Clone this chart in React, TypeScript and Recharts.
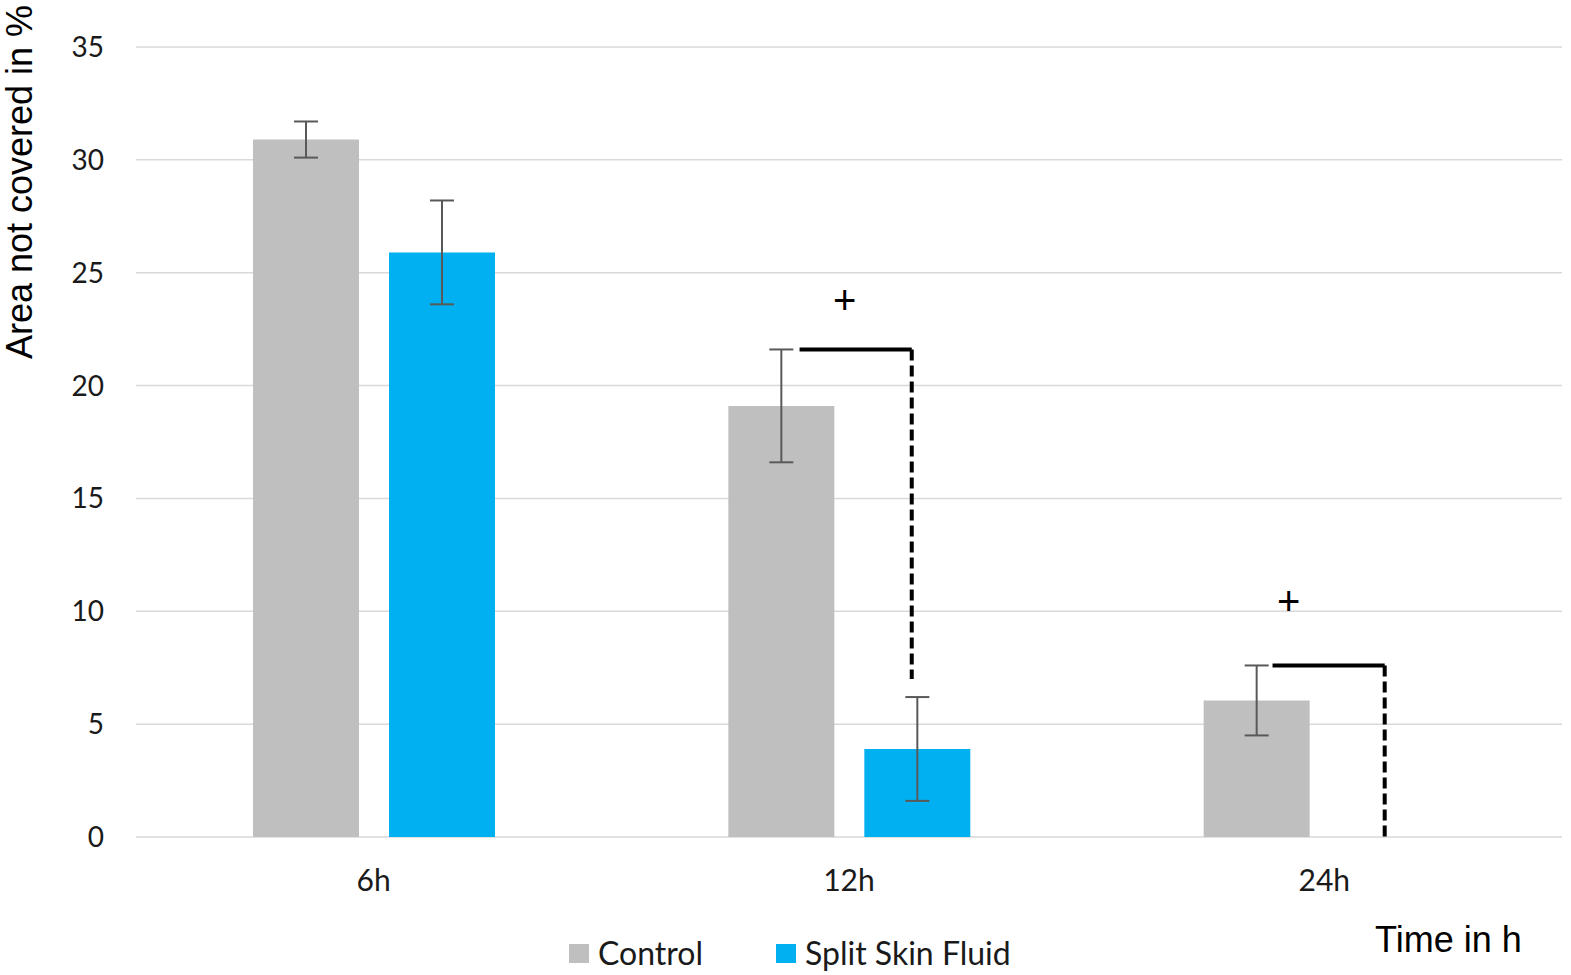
import * as React from "react";
import {
  BarChart, Bar, XAxis, YAxis, CartesianGrid, ErrorBar,
  ReferenceLine, ReferenceDot,
} from "recharts";

const categories = ["6h", "12h", "24h"];
const control = [30.9, 19.1, 6.05];
const controlErr = [0.8, 2.5, 1.55];
const splitSkin = [25.9, 3.9, 0];
const splitSkinErr = [2.3, 2.3, 0];
const yTicks = [0, 5, 10, 15, 20, 25, 30, 35];

// significance brackets, x in category-band units (band i spans i..i+1)
const bracketFrom = [1.396, 2.391];
const bracketTo = [1.632, 2.627];
const bracketTop = [21.6, 7.6];
const bracketBottom = [7.0, 0];
const plusX = [1.491, 2.425];
const plusY = [23.8, 10.45];

const CONTROL = "#bfbfbf";
const SSF = "#00b0f0";
const series = [
  { name: "Control", color: CONTROL },
  { name: "Split Skin Fluid", color: SSF },
];
const W = 1571;
const H = 975;

const data = categories.map((c, i) => ({
  cat: c,
  pos: i + 0.5,
  control: control[i],
  controlErr: controlErr[i],
  ssf: splitSkin[i],
  ssfErr: splitSkinErr[i],
}));

export default function App() {
  return (
    <div style={{ position: "absolute", left: 0, top: 0, width: W, height: H, background: "#fff" }}>
      <BarChart width={W} height={H} data={data}
        margin={{ top: 47, right: 9, left: 0, bottom: 0 }}
        barGap={30} barSize={106}>
        <CartesianGrid vertical={false} stroke="#d9d9d9" strokeWidth={1.5} />
        <XAxis dataKey="cat" axisLine={false} tickLine={false} tickSize={0} tickMargin={33} height={138}
          tick={{ fontFamily: "Lato", fontSize: 30, fill: "#1a1a1a" }} />
        <XAxis xAxisId="pos" dataKey="pos" type="number" domain={[0, 3]} hide allowDataOverflow />
        <YAxis domain={[0, 35]} ticks={yTicks} width={136} axisLine={false} tickLine={false}
          tickSize={0} tickMargin={32} interval={0}
          tick={{ fontFamily: "Lato", fontSize: 28, fill: "#1a1a1a" }} />
        <Bar dataKey="control" name="Control" fill={CONTROL} isAnimationActive={false}>
          <ErrorBar dataKey="controlErr" width={12} strokeWidth={2} stroke="#595959" direction="y" />
        </Bar>
        <Bar dataKey="ssf" name="Split Skin Fluid" fill={SSF} isAnimationActive={false}>
          <ErrorBar dataKey="ssfErr" width={12} strokeWidth={2} stroke="#595959" direction="y" />
        </Bar>
        {bracketFrom.map((x0, i) => (
          <ReferenceLine key={"h" + i} xAxisId="pos" stroke="#000" strokeWidth={4} ifOverflow="visible"
            segment={[{ x: x0, y: bracketTop[i] }, { x: bracketTo[i], y: bracketTop[i] }]} />
        ))}
        {bracketTo.map((x1, i) => (
          <ReferenceLine key={"v" + i} xAxisId="pos" stroke="#000" strokeWidth={4} strokeDasharray="11 5"
            ifOverflow="visible"
            segment={[{ x: x1, y: bracketTop[i] }, { x: x1, y: bracketBottom[i] }]} />
        ))}
        {plusX.map((x, i) => (
          <ReferenceDot key={"p" + i} xAxisId="pos" x={x} y={plusY[i]} r={1} fill="none" stroke="none"
            ifOverflow="visible"
            label={{ value: "+", position: "center", fontFamily: "Liberation Sans", fontSize: 40, fill: "#000" }} />
        ))}
      </BarChart>
      <svg width={W} height={H} style={{ position: "absolute", left: 0, top: 0, pointerEvents: "none" }}>
        <text transform="translate(32,182) rotate(-90)" textAnchor="middle"
          fontFamily="Liberation Sans" fontSize={36} fill="#000">Area not covered in %</text>
        <text x={1375} y={952} fontFamily="Liberation Sans" fontSize={36} fill="#000">Time in h</text>
      </svg>
      <div style={{ position: "absolute", left: 569, top: 933, display: "flex", alignItems: "center",
        fontFamily: "Lato", fontSize: 32, color: "#1a1a1a", lineHeight: "40px" }}>
        {series.map((s, i) => (
          <div key={s.name} style={{ display: "flex", alignItems: "center", marginRight: i === 0 ? 73 : 0 }}>
            <span style={{ width: 20, height: 19, background: s.color, display: "inline-block", marginRight: 9 }} />
            <span>{s.name}</span>
          </div>
        ))}
      </div>
    </div>
  );
}
